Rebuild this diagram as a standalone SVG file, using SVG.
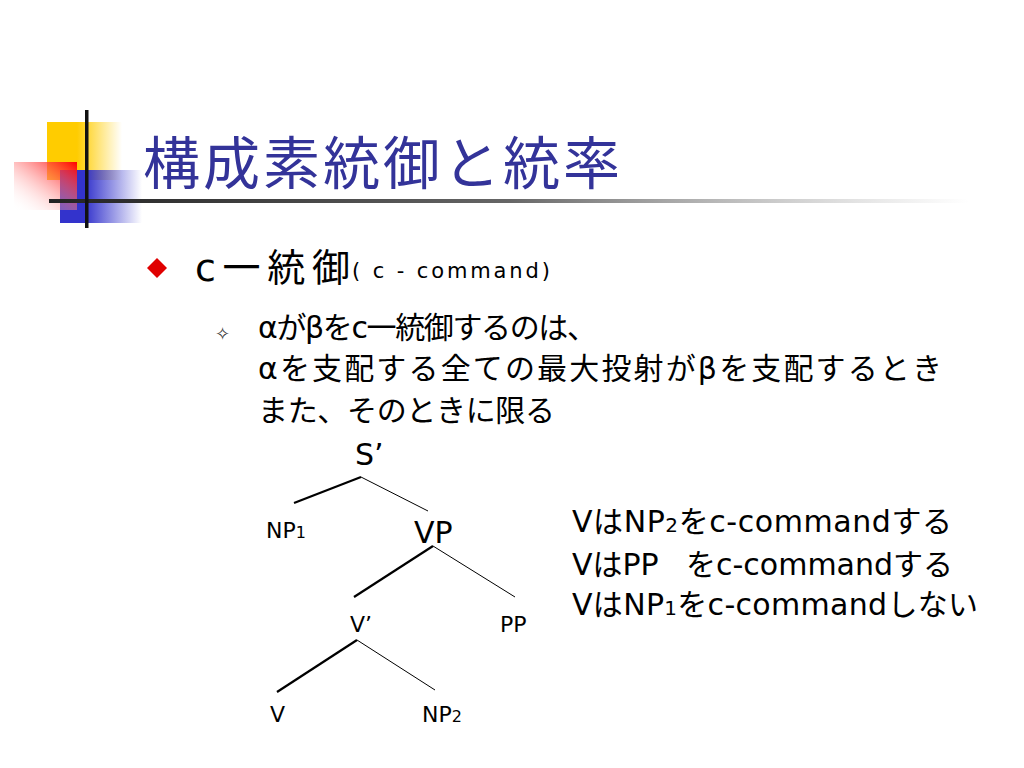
<svg xmlns="http://www.w3.org/2000/svg" width="1024" height="768" viewBox="0 0 1024 768">
<defs>
<linearGradient id="gy" x1="0" x2="1" y1="0" y2="0"><stop offset="0.4" stop-color="#ffcc00"/><stop offset="1" stop-color="#ffcc00" stop-opacity="0"/></linearGradient>
<linearGradient id="gr" x1="1" y1="0" x2="0" y2="1"><stop offset="0" stop-color="#ff0000"/><stop offset="1" stop-color="#ffffff" stop-opacity="0"/></linearGradient>
<linearGradient id="gb" x1="0" x2="1" y1="0" y2="0"><stop offset="0.3" stop-color="#3333cc"/><stop offset="1" stop-color="#3333cc" stop-opacity="0"/></linearGradient>
<linearGradient id="gl" x1="0" x2="1" y1="0" y2="0"><stop offset="0" stop-color="#222"/><stop offset="0.5" stop-color="#666"/><stop offset="1" stop-color="#999" stop-opacity="0"/></linearGradient>
<style>
text{font-family:"DejaVu Sans","Noto Sans CJK JP",sans-serif;fill:#000}
.t{font-size:30px}
.n{font-size:22px}
.thick{stroke:#000;stroke-width:2.2}
.thin{stroke:#000;stroke-width:1}
</style>
</defs>
<rect width="1024" height="768" fill="#fff"/>
<g id="deco">
<rect x="47" y="122" width="75" height="58" fill="url(#gy)"/>
<rect x="60" y="170" width="82" height="53" fill="url(#gb)"/>
<rect x="14" y="162" width="63" height="48" fill="url(#gr)"/>
<rect x="49" y="199" width="920" height="4" fill="url(#gl)"/>
<rect x="85" y="110" width="3.5" height="118" fill="#111"/>
</g>
<text x="143" y="184" style="font-size:57px;fill:#333399" textLength="477" lengthAdjust="spacing">構成素統御と統率</text>
<polygon points="157,258 167,268 157,278 147,268" fill="#e00000"/>
<text x="195" y="281" style="font-size:38px" textLength="155" lengthAdjust="spacing">c一統御</text>
<text x="352" y="278" style="font-size:21px" textLength="198" lengthAdjust="spacing">( c - command)</text>
<text x="215" y="340" style="font-size:18px;fill:#333">✧</text>
<text x="258" y="338" class="t" textLength="339" lengthAdjust="spacing">αがβをc一統御するのは、</text>
<text x="258" y="379" class="t" textLength="684" lengthAdjust="spacing">αを支配する全ての最大投射がβを支配するとき</text>
<text x="258" y="421" class="t" textLength="297" lengthAdjust="spacing">また、そのときに限る</text>
<g id="connectors">
<line x1="361" y1="477" x2="294" y2="503" class="thick"/>
<line x1="361" y1="477" x2="428" y2="511" class="thin"/>
<line x1="433" y1="546" x2="354" y2="597" class="thick"/>
<line x1="433" y1="546" x2="515" y2="597" class="thin"/>
<line x1="357" y1="640" x2="277" y2="692" class="thick"/>
<line x1="357" y1="640" x2="435" y2="690" class="thin"/>
</g>
<g id="S"><text x="355" y="465" class="t">S’</text></g>
<g id="NP1"><text x="266" y="538" class="n">NP<tspan font-size="16">1</tspan></text></g>
<g id="VP"><text x="414" y="543" class="t">VP</text></g>
<g id="Vbar"><text x="350" y="632" class="n">V’</text></g>
<g id="PP"><text x="500" y="632" class="n">PP</text></g>
<g id="V"><text x="270" y="722" class="n">V</text></g>
<g id="NP2"><text x="422" y="722" class="n">NP<tspan font-size="16">2</tspan></text></g>
<text x="572" y="532" class="t" textLength="380" lengthAdjust="spacing">VはNP<tspan font-size="20">2</tspan>をc-commandする</text>
<text x="572" y="575" class="t">VはPP<tspan x="686">をc-commandする</tspan></text>
<text x="572" y="615" class="t" textLength="406" lengthAdjust="spacing">VはNP<tspan font-size="20">1</tspan>をc-commandしない</text>
</svg>
